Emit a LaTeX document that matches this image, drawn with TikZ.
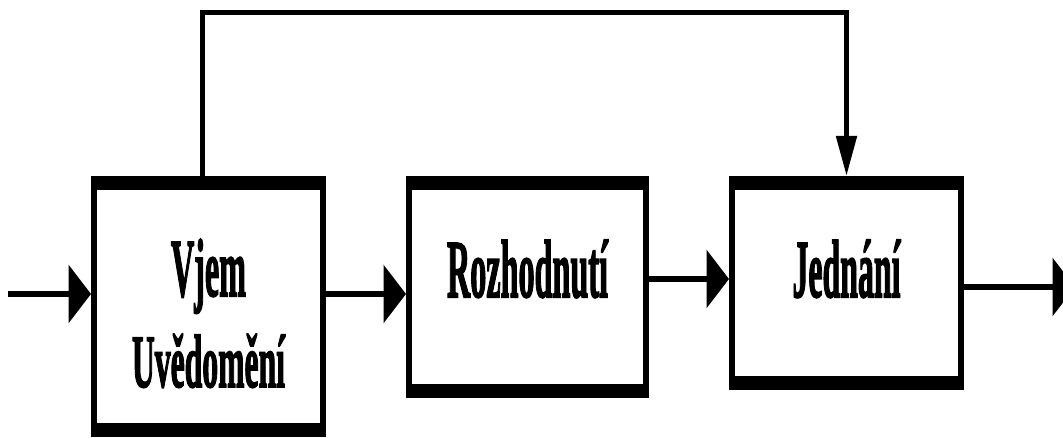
\documentclass[tikz,border=0pt]{standalone}
\usepackage{fontspec}
\setmainfont{Liberation Serif}[BoldFeatures={FakeBold=2.5}]
\usepackage{graphicx}
\usepackage{tikz}
\usetikzlibrary{arrows.meta}

\newcommand{\slovo}[3]{\resizebox{#1}{#2}{#3}}

\begin{document}
\begin{tikzpicture}[
    blok/.style={draw=black, line width=1.2mm, inner sep=0pt,
        path picture={
            \fill (path picture bounding box.north west) rectangle ([yshift=-2.2mm]path picture bounding box.north east);
            \fill (path picture bounding box.south west) rectangle ([yshift=2.2mm]path picture bounding box.south east);
        }},
    popis/.style={font=\bfseries\fontsize{50}{52}\selectfont, inner sep=0pt, anchor=base},
    sipka/.style={line width=1.2mm, -{Triangle[length=4.5mm,width=11.5mm]}},
    zpetna/.style={line width=1mm, -{Triangle[length=8mm,width=4mm]}}
]
    \useasboundingbox (0,0) rectangle (21.26,8.76);

    \node[blok, minimum width=4.58cm, minimum height=5.10cm] (vjem) at (4.17,2.63) {};
     \node[blok, minimum width=4.74cm, minimum height=4.32cm] (rozh) at (10.55,3.02) {};
      \node[blok, minimum width=4.58cm, minimum height=4.16cm] (jedn) at (16.93,3.10) {};

    \node[popis] (tvjem) at ([yshift=2.1mm]vjem.center) {\slovo{1.5cm}{1.14cm}{Vjem}};
    \node[popis] (tuved) at ([yshift=-16.1mm]vjem.center) {\slovo{3.06cm}{1.06cm}{Uvědomění}};
     \node[popis] (trozh) at ([yshift=-2mm]rozh.center) {\slovo{3.22cm}{1.14cm}{Rozhodnutí}};
      \node[popis] (tjedn) at ([yshift=-2.8mm]jedn.center) {\slovo{2.16cm}{1.14cm}{Jednání}};

    \coordinate (vstup) at (0.16,2.88);
    \coordinate (vystup) at (21.5,3.02);
    \coordinate (zpet) at (4.04,8.5);

    \draw[sipka] (vstup) -- (vstup -| vjem.west);
    \draw[sipka] (vjem.east |- vstup) -- (rozh.west |- vstup);
    \draw[sipka] ([yshift=1.6mm]rozh.east) -- ([yshift=1.6mm]rozh.east -| jedn.west);
    \draw[sipka] (jedn.east |- vystup) -- (vystup);
    \draw[zpetna] (vjem.north -| zpet) -- (zpet) -| (jedn.north);
\end{tikzpicture}
\end{document}
